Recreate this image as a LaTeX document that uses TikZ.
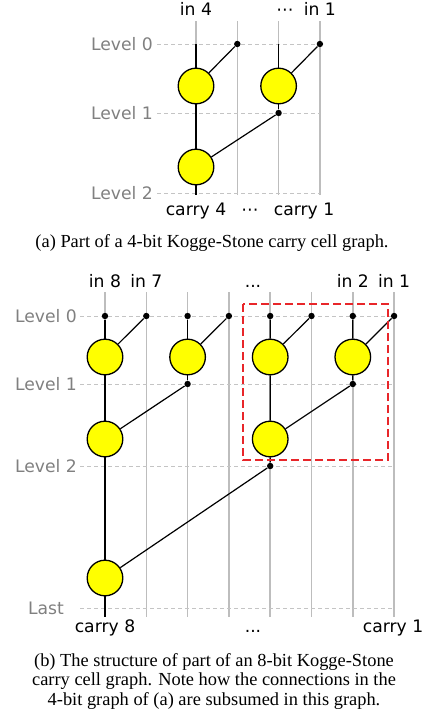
\documentclass[tikz,border=0pt]{standalone}
\usepackage{fontspec}
\setmainfont{Liberation Serif}
\newfontfamily\diagfont{DejaVu Sans}
\usetikzlibrary{positioning,calc}
\definecolor{CellYellow}{HTML}{FFFF00}
\definecolor{WireGray}{HTML}{BDBDBD}
\definecolor{LevelGray}{HTML}{808080}
\definecolor{GuideGray}{HTML}{C4C4C4}
\definecolor{BoxRed}{HTML}{E8262A}
\tikzset{
  cell/.style={circle,draw=black,fill=CellYellow,line width=0.65pt,minimum size=17.8pt,inner sep=0pt},
  tap/.style={circle,fill=black,minimum size=3.2pt,inner sep=0pt},
  wire/.style={draw=WireGray,line width=0.8pt},
  guide/.style={draw=GuideGray,line width=0.5pt,dash pattern=on 2pt off 1.5pt},
  link/.style={draw=black,line width=0.6pt},
  lvl/.style={font=\diagfont\fontsize{8.6}{10}\selectfont,text=LevelGray,anchor=base,inner sep=0pt},
  pin/.style={font=\diagfont\fontsize{8.6}{10}\selectfont,anchor=base,inner sep=0pt},
  subbox/.style={draw=BoxRed,line width=0.7pt,dash pattern=on 4pt off 2pt},
  capt/.style={font=\fontsize{9.2}{9.75}\selectfont,align=center,inner sep=0pt}
}

\begin{document}
\begin{tikzpicture}[x=0.5pt,y=-0.5pt]
  \useasboundingbox (0,0) rectangle (429,712);

  % (a) part of the 4-bit graph
  \foreach \i in {1,...,4} {
    \coordinate (at\i) at ({196+41.3*(\i-1)},21);
    \coordinate (ab\i) at ({196+41.3*(\i-1)},195);
    \draw[wire] (at\i) -- (ab\i);
  }
  \foreach \lv/\yy in {0/44,1/113,2/193} {
    \coordinate (ag\lv w) at (157,\yy);
    \coordinate (ag\lv e) at (320,\yy);
    \draw[guide] (ag\lv w) -- (ag\lv e);
    \node[lvl] (alv\lv) at (122,{\yy+6.5}) {Level \lv};
  }
  \node[cell] (a11) at (196,86) {};
  \node[cell] (a13) at (278.6,86) {};
  \node[cell] (a21) at (196,167) {};
  \coordinate (ta01) at (196,44);
  \coordinate (ta03) at (278.6,44);
  \node[tap] (ta02) at (237.3,44) {};
  \node[tap] (ta04) at (319.9,44) {};
  \node[tap] (ta13) at (278.6,113) {};
  \draw[link] (ta01) -- (a11) -- (a21) -- (ab1);
  \draw[link] (ta03) -- (a13) -- (ta13);
  \draw[link] (ta02) -- (a11);
  \draw[link] (ta04) -- (a13);
  \draw[link] (ta13) -- (a21);
  \node[pin] (ain4) at (196,16) {in 4};
  \node[pin] (adots) at (285,16) {⋯};
  \node[pin] (ain1) at (319.9,16) {in 1};
  \node[pin] (acarry4) at (196,215) {carry 4};
  \node[pin] (adotsb) at (250,215) {⋯};
  \node[pin] (acarry1) at (304,215) {carry 1};
  \node[capt,anchor=base] (capa) at (212,247.5) {(a) Part of a 4-bit Kogge-Stone carry cell graph.};

  % (b) part of the 8-bit graph
  \foreach \i in {1,...,8} {
    \coordinate (bt\i) at ({105+41.3*(\i-1)},292);
    \coordinate (bb\i) at ({105+41.3*(\i-1)},617);
    \draw[wire] (bt\i) -- (bb\i);
  }
  \foreach \lv/\yy/\txt in {0/316/Level 0,1/384/Level 1,2/466/Level 2,3/608/Last} {
    \coordinate (bg\lv w) at (80,\yy);
    \coordinate (bg\lv e) at (394,\yy);
    \draw[guide] (bg\lv w) -- (bg\lv e);
    \node[lvl] (blv\lv) at (46,{\yy+6.5}) {\txt};
  }
  \foreach \i in {1,...,8}
    \node[tap] (tb0\i) at ({105+41.3*(\i-1)},316) {};
  \node[cell] (b11) at (105,357) {};
  \node[cell] (b13) at (187.6,357) {};
  \node[cell] (b15) at (270.2,357) {};
  \node[cell] (b17) at (352.8,357) {};
  \node[cell] (b21) at (105,439) {};
  \node[cell] (b25) at (270.2,439) {};
  \node[cell] (b31) at (105,578) {};
  \node[tap] (tb13) at (187.6,384) {};
  \node[tap] (tb17) at (352.8,384) {};
  \node[tap] (tb25) at (270.2,466) {};
  \draw[link] (tb01) -- (b11) -- (b21) -- (b31) -- (bb1);
  \draw[link] (tb03) -- (b13) -- (tb13);
  \draw[link] (tb05) -- (b15) -- (b25) -- (tb25);
  \draw[link] (tb07) -- (b17) -- (tb17);
  \draw[link] (tb02) -- (b11);
  \draw[link] (tb04) -- (b13);
  \draw[link] (tb06) -- (b15);
  \draw[link] (tb08) -- (b17);
  \draw[link] (tb13) -- (b21);
  \draw[link] (tb17) -- (b25);
  \draw[link] (tb25) -- (b31);
  \coordinate (boxnw) at (243,304);
  \coordinate (boxse) at (388,460);
  \draw[subbox] (boxnw) rectangle (boxse);
  \node[pin] (bin8) at (105,287) {in 8};
  \node[pin] (bin7) at (146.3,287) {in 7};
  \node[pin] (bdots) at (253,287) {...};
  \node[pin] (bin2) at (352.8,287) {in 2};
  \node[pin] (bin1) at (394.1,287) {in 1};
  \node[pin] (bcarry8) at (105,632) {carry 8};
  \node[pin] (bdotsb) at (253,632) {...};
  \node[pin] (bcarry1) at (393,632) {carry 1};
  \node[capt] (capb) at (214,681) {(b) The structure of part of an 8-bit Kogge-Stone\\carry cell graph. Note how the connections in the\\4-bit graph of (a) are subsumed in this graph.};
\end{tikzpicture}
\end{document}
